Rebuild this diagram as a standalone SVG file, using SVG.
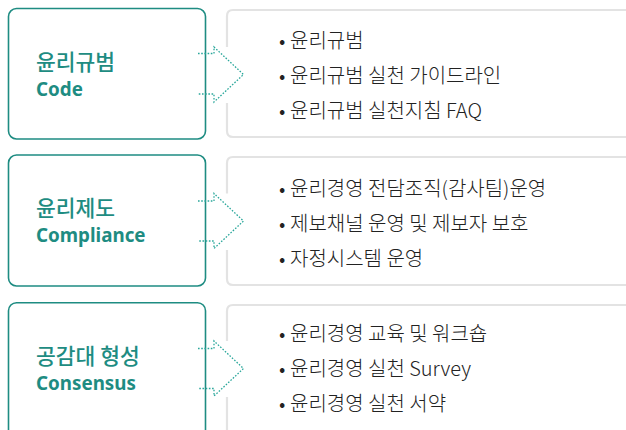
<svg xmlns="http://www.w3.org/2000/svg" width="626" height="430" viewBox="0 0 626 430">
<style>
.box{fill:#fff;stroke:#1e8c82;stroke-width:1.6}
.panel{fill:none;stroke:#e3e3e3;stroke-width:2.2}
.arrow{fill:none;stroke:#2aa79b;stroke-width:1.3;stroke-dasharray:1.6 1.6}
.ko{font-family:"Noto Sans CJK KR","Noto Sans",sans-serif;font-size:21.5px;font-weight:500;fill:#1e8c82}
.en{font-family:"Noto Sans","Noto Sans CJK KR",sans-serif;font-size:18.8px;font-weight:700;fill:#1e8c82}
.item{font-family:"Noto Sans CJK KR","Noto Sans",sans-serif;font-size:20px;font-weight:300;fill:#222}
</style>
<rect width="626" height="430" fill="#fff"/>
<g id="node-code">
<rect class="box" x="8.5" y="8.5" width="197" height="130.5" rx="8"/>
<text class="ko" x="36" y="69.5">윤리규범</text>
<text class="en" x="36" y="95.5">Code</text>
</g>
<g id="panel-code">
<path class="panel" d="M227,47 V16 Q227,10 233,10 H640 M640,137 H233 Q227,137 227,131 V103"/>
<text class="item" y="47.5"><tspan x="279">•</tspan><tspan x="290">윤리규범</tspan></text>
<text class="item" y="83"><tspan x="279">•</tspan><tspan x="290">윤리규범 실천 가이드라인</tspan></text>
<text class="item" y="118"><tspan x="279">•</tspan><tspan x="290">윤리규범 실천지침 FAQ</tspan></text>
</g>
<g id="node-compliance">
<rect class="box" x="8.5" y="155" width="197" height="131" rx="8"/>
<text class="ko" x="36" y="216">윤리제도</text>
<text class="en" x="36" y="242">Compliance</text>
</g>
<g id="panel-compliance">
<path class="panel" d="M227,193.5 V163 Q227,157 233,157 H640 M640,285 H233 Q227,285 227,279 V250"/>
<text class="item" y="196"><tspan x="279">•</tspan><tspan x="290">윤리경영 전담조직(감사팀)운영</tspan></text>
<text class="item" y="231"><tspan x="279">•</tspan><tspan x="290">제보채널 운영 및 제보자 보호</tspan></text>
<text class="item" y="265.5"><tspan x="279">•</tspan><tspan x="290">자정시스템 운영</tspan></text>
</g>
<g id="node-consensus">
<rect class="box" x="8.5" y="302.7" width="197" height="140" rx="8"/>
<text class="ko" x="36" y="363.7">공감대 형성</text>
<text class="en" x="36" y="389.7">Consensus</text>
</g>
<g id="panel-consensus">
<path class="panel" d="M227,341 V311 Q227,305 233,305 H640 M227,397 V440"/>
<text class="item" y="341"><tspan x="279">•</tspan><tspan x="290">윤리경영 교육 및 워크숍</tspan></text>
<text class="item" y="376"><tspan x="279">•</tspan><tspan x="290">윤리경영 실천 Survey</tspan></text>
<text class="item" y="410.5"><tspan x="279">•</tspan><tspan x="290">윤리경영 실천 서약</tspan></text>
</g>
<g id="connectors">
<path class="arrow" d="M198,53.5 H214 V47 L243.5,74.5 L214,102 V94 H198"/>
<path class="arrow" d="M198,201 H214 V193.5 L243.5,221 L214,248.5 V241 H198"/>
<path class="arrow" d="M198,348.5 H214 V341 L243.5,368.5 L214,396 V388.5 H198"/>
</g>
</svg>
